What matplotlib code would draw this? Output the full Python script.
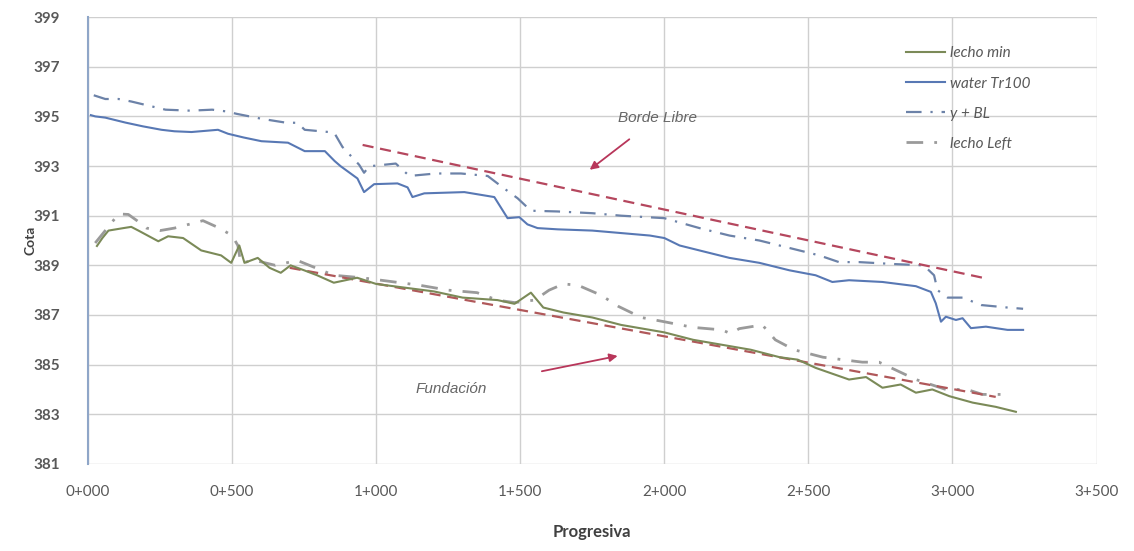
import numpy as np
import matplotlib
matplotlib.use("Agg")
import matplotlib.pyplot as plt
from matplotlib.ticker import FuncFormatter, MultipleLocator

# progresiva (m) / cota (m)
water_x = [10, 25, 60, 130, 190, 255, 300, 359, 451, 486, 540, 602, 694, 752, 822, 856,
           877, 935, 958, 993, 1074, 1109, 1126, 1167, 1306, 1410, 1456, 1497, 1525, 1560,
           1630, 1750, 1850, 1950, 2000, 2053, 2122, 2226, 2330, 2434, 2525, 2583, 2641,
           2757, 2873, 2925, 2942, 2960, 2977, 3012, 3035, 3064, 3116, 3191, 3245]
water_y = [395.05, 395.0, 394.95, 394.75, 394.6, 394.46, 394.4, 394.37, 394.46, 394.3,
           394.15, 394.0, 393.94, 393.6, 393.6, 393.2, 392.99, 392.5, 391.95, 392.27, 392.3,
           392.14, 391.75, 391.9, 391.95, 391.75, 390.9, 390.94, 390.65, 390.5, 390.45,
           390.4, 390.3, 390.2, 390.1, 389.8, 389.6, 389.3, 389.1, 388.8, 388.6, 388.33,
           388.4, 388.33, 388.16, 387.93, 387.47, 386.73, 386.93, 386.8, 386.87, 386.47,
           386.53, 386.4, 386.4]

ybl_x = [20, 60, 106, 150, 193, 269, 355, 431, 480, 517, 604, 685, 727, 752, 854, 883,
         941, 958, 976, 1068, 1115, 1207, 1294, 1387, 1439, 1491, 1537, 1630, 1750, 1850,
         2000, 2122, 2226, 2330, 2434, 2538, 2606, 2676, 2800, 2900, 2936, 2948, 2983,
         3035, 3100, 3191, 3245]
ybl_y = [395.85, 395.7, 395.7, 395.6, 395.48, 395.27, 395.23, 395.27, 395.2, 395.1,
         394.9, 394.75, 394.74, 394.46, 394.35, 393.77, 393.05, 392.73, 392.99, 393.1,
         392.6, 392.7, 392.7, 392.6, 392.14, 391.7, 391.2, 391.17, 391.1, 391.0, 390.9,
         390.5, 390.2, 390.0, 389.7, 389.4, 389.13, 389.13, 389.05, 389.0, 388.6, 388.0,
         387.7, 387.7, 387.4, 387.3, 387.25]

min_x = [31, 50, 71, 123, 150, 175, 244, 278, 330, 393, 462, 497, 525, 543, 589, 630,
         669, 703, 750, 795, 853, 934, 1000, 1100, 1200, 1300, 1421, 1480, 1537, 1580,
         1650, 1750, 1850, 1950, 2000, 2100, 2200, 2300, 2400, 2463, 2525, 2641, 2700,
         2757, 2820, 2873, 2930, 2989, 3070, 3150, 3220]
min_y = [389.78, 390.1, 390.4, 390.5, 390.55, 390.4, 389.97, 390.17, 390.1, 389.6, 389.4,
         389.1, 389.8, 389.1, 389.3, 388.9, 388.7, 389.0, 388.8, 388.6, 388.3, 388.5,
         388.25, 388.1, 387.95, 387.7, 387.6, 387.45, 387.9, 387.3, 387.1, 386.9, 386.6,
         386.4, 386.3, 386.0, 385.8, 385.6, 385.3, 385.2, 384.87, 384.4, 384.5, 384.07,
         384.2, 383.87, 384.0, 383.73, 383.47, 383.3, 383.1]

left_x = [25, 60, 106, 140, 170, 203, 250, 300, 399, 456, 500, 520, 530, 580, 650, 726,
          853, 950, 1050, 1150, 1250, 1350, 1420, 1480, 1550, 1600, 1650, 1700, 1780,
          1840, 1920, 1990, 2100, 2200, 2230, 2260, 2340, 2385, 2450, 2550, 2687, 2745,
          2800, 2873, 2977, 3050, 3104, 3173]
left_y = [389.9, 390.4, 391.07, 391.05, 390.8, 390.5, 390.4, 390.5, 390.8, 390.5, 390.2,
          389.8, 389.1, 389.2, 389.0, 389.2, 388.6, 388.5, 388.35, 388.2, 388.0, 387.9,
          387.6, 387.5, 387.6, 388.0, 388.25, 388.2, 387.8, 387.35, 386.9, 386.75, 386.5,
          386.4, 386.25, 386.45, 386.6, 386.0, 385.6, 385.3, 385.1, 385.1, 384.8, 384.4,
          384.0, 384.0, 383.8, 383.8]

borde_x = [953, 3105]
borde_y = [393.85, 388.5]
fund_x = [700, 3150]
fund_y = [388.9, 383.7]

y_ticks = list(range(381, 400, 2))

plt.rcParams['font.family'] = ['Lato', 'DejaVu Sans']

fig = plt.figure(figsize=(11.34, 5.51), dpi=100)
ax = fig.add_axes([0.0776, 0.158, 0.8894, 0.811])

grid_c = '#cfcfcf'
ax.plot(min_x, min_y, color='#7b8a58', lw=1.5, label='lecho min', zorder=4)
ax.plot(water_x, water_y, color='#5878b4', lw=1.5, label='water Tr100', zorder=4)
ax.plot(ybl_x, ybl_y, color='#6c82a8', lw=1.6, dashes=(7, 4, 1, 4), label='y + BL', zorder=3)
ax.plot(left_x, left_y, color='#9a9a9a', lw=2.0, dashes=(6, 4, 1, 4), label='lecho Left', zorder=3)
ax.plot(borde_x, borde_y, color='#b5475e', lw=1.6, dashes=(5, 3), zorder=3)
ax.plot(fund_x, fund_y, color='#b0585a', lw=1.6, dashes=(5, 3), zorder=3)

arrow_c = '#b8365a'
ax.annotate('Borde Libre', xy=(1741, 392.85), xytext=(1976, 394.95),
            fontsize=11, style='italic', color='#666666', family='Liberation Sans',
            ha='center', va='center',
            arrowprops=dict(arrowstyle='-|>', color=arrow_c, lw=1.3,
                            shrinkA=14, shrinkB=0, mutation_scale=12))
ax.annotate('Fundación', xy=(1838, 385.35), xytext=(1262, 384.0),
            fontsize=11, style='italic', color='#666666', family='Liberation Sans',
            ha='center', va='center',
            arrowprops=dict(arrowstyle='-|>', color=arrow_c, lw=1.3,
                            shrinkA=38, shrinkB=0, mutation_scale=12))

ax.set_xlim(0, 3500)
ax.set_ylim(381, 399)
ax.xaxis.set_major_locator(MultipleLocator(500))
ax.set_yticks(y_ticks)
ax.xaxis.set_major_formatter(FuncFormatter(lambda v, p: f"{int(v // 1000)}+{int(v % 1000):03d}"))
ax.grid(True, color=grid_c, lw=1.0)
ax.set_axisbelow(True)
for s in ['top', 'right', 'bottom']:
    ax.spines[s].set_visible(False)
ax.spines['left'].set_color('#8fa6c8')
ax.spines['left'].set_linewidth(1.5)
ax.tick_params(length=0, labelsize=11, colors='#595959')
ax.tick_params(axis='x', pad=15)
ax.tick_params(axis='y', pad=20)
for t in ax.get_yticklabels():
    t.set_fontweight('bold')

ax.set_xlabel('Progresiva', fontsize=12, fontweight='bold', color='#404040', labelpad=18)
ax.set_ylabel('Cota', fontsize=10, fontweight='bold', color='#404040', labelpad=-2)

leg = ax.legend(loc='upper left', bbox_to_anchor=(0.797, 0.965), frameon=False,
                prop={'style': 'italic', 'size': 11}, handlelength=2.6,
                labelspacing=1.05, handletextpad=0.3)
for t in leg.get_texts():
    t.set_color('#595959')

fig.savefig('out.png', dpi=100, facecolor='white')
